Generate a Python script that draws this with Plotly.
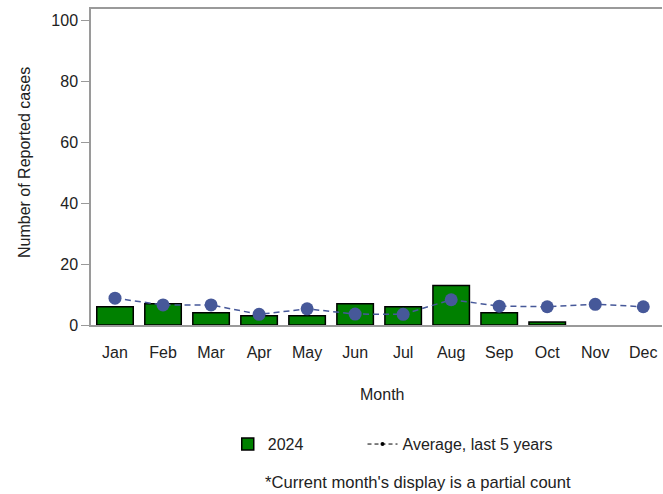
import plotly.graph_objects as go

months = ["Jan", "Feb", "Mar", "Apr", "May", "Jun", "Jul", "Aug", "Sep", "Oct", "Nov", "Dec"]
cases_2024 = [6, 7, 4, 3, 3, 7, 6, 13, 4, 1, None, None]
avg_5yr = [8.8, 6.6, 6.6, 3.5, 5.3, 3.6, 3.5, 8.3, 6.2, 6.0, 6.8, 6.0]
y_ticks = [0, 20, 40, 60, 80, 100]

FONT = "Liberation Sans, Arial, sans-serif"
GREEN = "#008000"
BLUE = "#465899"
AXIS = "#9a9a9a"
TXT = "#222222"

fig = go.Figure()
fig.add_trace(go.Bar(
    x=months, y=cases_2024, name="2024",
    marker=dict(color=GREEN, line=dict(color="black", width=1.5)),
    width=0.76, showlegend=True, legend="legend",
))
fig.add_trace(go.Scatter(
    x=months, y=avg_5yr, mode="lines+markers", name="Average, last 5 years",
    line=dict(color=BLUE, width=1.5, dash="6px,4px"),
    marker=dict(color=BLUE, size=13),
    showlegend=False,
))
# legend-only stand-in for the average series (small black glyph as in the original)
fig.add_trace(go.Scatter(
    x=[None], y=[None], mode="lines+markers", name="Average, last 5 years",
    line=dict(color="black", width=1, dash="4px,3px"),
    marker=dict(color="black", size=4),
    showlegend=True, legend="legend2",
))

fig.update_layout(
    width=663, height=494,
    margin=dict(l=91, r=1, t=9, b=169),
    paper_bgcolor="white", plot_bgcolor="white",
    font=dict(family=FONT, size=16, color=TXT),
    bargap=0.24,
    legend=dict(
        orientation="h", x=0.2395, xanchor="left", y=-0.377, yanchor="middle",
        font=dict(size=16, color=TXT),
    ),
    legend2=dict(
        orientation="h", x=0.4755, xanchor="left", y=-0.377, yanchor="middle",
        font=dict(size=16, color=TXT),
    ),
    xaxis=dict(
        type="category", range=[-0.5, 11.39],
        showline=True, linecolor=AXIS, linewidth=1.5, mirror=True,
        ticks="", showgrid=False, ticklabelstandoff=12,
        tickfont=dict(size=16, color=TXT),
    ),
    yaxis=dict(
        range=[0, 103.8], tickvals=y_ticks,
        showline=True, linecolor=AXIS, linewidth=1.5,
        ticks="outside", ticklen=8, tickcolor=AXIS, tickwidth=1,
        showgrid=False, zeroline=False,
        tickfont=dict(size=16, color=TXT),
    ),
    annotations=[
        dict(text="Month", xref="paper", yref="paper", x=0.509, y=-0.2215,
             showarrow=False, xanchor="center", yanchor="middle",
             font=dict(size=16, color=TXT)),
        dict(text="Number of Reported cases", xref="paper", yref="paper",
             x=-0.1165, y=0.514, textangle=-90, showarrow=False,
             xanchor="center", yanchor="middle",
             font=dict(size=16, color=TXT)),
        dict(text="*Current month's display is a partial count", xref="paper", yref="paper",
             x=0.572, y=-0.497, showarrow=False, xanchor="center", yanchor="middle",
             font=dict(size=16.6, color=TXT)),
    ],
)

fig.write_html(
    "out.html",
    config={"displayModeBar": False},
    post_script="document.body.style.margin='0px';document.body.style.overflow='hidden';",
)
